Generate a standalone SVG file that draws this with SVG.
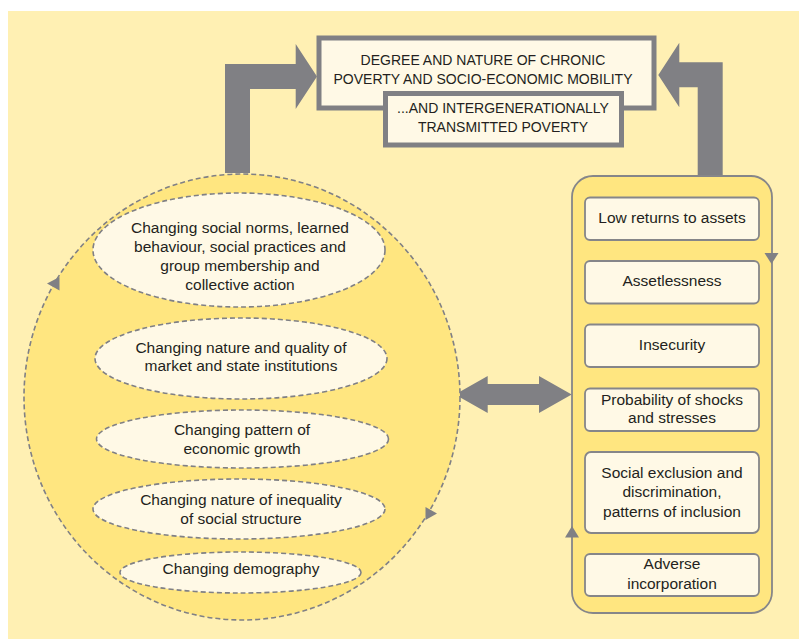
<svg xmlns="http://www.w3.org/2000/svg" width="799" height="639" viewBox="0 0 799 639">
<style>
.t{font-family:"Liberation Sans",Arial,sans-serif;font-size:15.5px;fill:#231f20;text-anchor:middle}
.h{font-family:"Liberation Sans",Arial,sans-serif;font-size:14px;fill:#231f20;text-anchor:middle}
.ell{fill:#FFF9E6;stroke:#808085;stroke-width:1.6;stroke-dasharray:5 3}
.box{fill:#FFF9E6;stroke:#868689;stroke-width:1.8}
.arr{fill:#808084}
.tb{fill:#FFF9E6;stroke:#808084;stroke-width:5}
</style>
<rect x="0" y="0" width="799" height="639" fill="#ffffff"/>
<rect x="8" y="11" width="791" height="628" fill="#FFF0B3"/>
<g id="connectors">
<path class="arr" d="M225,173 L225,64 L295.7,64 L295.7,44 L317,76.5 L295.7,109 L295.7,89 L250,89 L250,173 Z"/>
<path class="arr" d="M722.7,176 L722.7,62.3 L679.3,62.3 L679.3,42.7 L658.3,75 L679.3,107.3 L679.3,87.3 L697.7,87.3 L697.7,176 Z"/>
<path class="arr" d="M455,394.5 L487.7,376 L487.7,384 L539,384 L539,376 L571.7,394.5 L539,413 L539,405 L487.7,405 L487.7,413 Z"/>
</g>
<g id="circle">
<ellipse cx="242" cy="397" rx="218" ry="223" fill="#FFE680" stroke="#808085" stroke-width="1.6" stroke-dasharray="5 3"/>
<polygon class="arr" points="47,283.5 59.5,277 59.5,290.5"/>
<polygon class="arr" points="425.5,507 437,513.5 425.5,520"/>
</g>
<g id="n-norms">
<ellipse class="ell" cx="239" cy="250" rx="146" ry="57"/>
<text class="t" x="240" y="232.5">Changing social norms, learned</text>
<text class="t" x="240" y="251.5">behaviour, social practices and</text>
<text class="t" x="240" y="270.5">group membership and</text>
<text class="t" x="240" y="289.5">collective action</text>
</g>
<g id="n-institutions">
<ellipse class="ell" cx="241" cy="358.5" rx="146" ry="40.5"/>
<text class="t" x="241" y="352.5">Changing nature and quality of</text>
<text class="t" x="241" y="371">market and state institutions</text>
</g>
<g id="n-growth">
<ellipse class="ell" cx="242.5" cy="439" rx="146" ry="29"/>
<text class="t" x="242" y="435">Changing pattern of</text>
<text class="t" x="242" y="453.5">economic growth</text>
</g>
<g id="n-inequality">
<ellipse class="ell" cx="239" cy="509" rx="146" ry="30"/>
<text class="t" x="241" y="505">Changing nature of inequality</text>
<text class="t" x="241" y="524">of social structure</text>
</g>
<g id="n-demography">
<ellipse class="ell" cx="240.5" cy="572.5" rx="120.5" ry="20.5"/>
<text class="t" x="241" y="574">Changing demography</text>
</g>
<g id="panel">
<rect x="572" y="176" width="200" height="437" rx="21" fill="#FFE680" stroke="#868689" stroke-width="1.8"/>
<polygon class="arr" points="764.5,253 778.5,253 771.5,264"/>
<polygon class="arr" points="572,526 565,537.5 579,537.5"/>
</g>
<g id="b-low">
<rect class="box" x="585" y="197.5" width="174" height="42.5" rx="5"/>
<text class="t" x="672" y="223">Low returns to assets</text>
</g>
<g id="b-assetless">
<rect class="box" x="585" y="261" width="174" height="42.5" rx="5"/>
<text class="t" x="672" y="286">Assetlessness</text>
</g>
<g id="b-insecurity">
<rect class="box" x="585" y="324.5" width="174" height="42.5" rx="5"/>
<text class="t" x="672" y="350">Insecurity</text>
</g>
<g id="b-shocks">
<rect class="box" x="585" y="388.5" width="174" height="42.5" rx="5"/>
<text class="t" x="672" y="404.5">Probability of shocks</text>
<text class="t" x="672" y="423">and stresses</text>
</g>
<g id="b-exclusion">
<rect class="box" x="585" y="452" width="174" height="81" rx="6"/>
<text class="t" x="672" y="477.5">Social exclusion and</text>
<text class="t" x="672" y="497">discrimination,</text>
<text class="t" x="672" y="516.5">patterns of inclusion</text>
</g>
<g id="b-adverse">
<rect class="box" x="585" y="554" width="174" height="42" rx="5"/>
<text class="t" x="672" y="568.5">Adverse</text>
<text class="t" x="672" y="588.5">incorporation</text>
</g>
<g id="title1">
<rect class="tb" x="319" y="38" width="335" height="70"/>
<text class="h" x="483" y="65">DEGREE AND NATURE OF CHRONIC</text>
<text class="h" x="483" y="84">POVERTY AND SOCIO-ECONOMIC MOBILITY</text>
</g>
<g id="title2">
<rect class="tb" x="385.5" y="93.5" width="236" height="51.5"/>
<text class="h" x="503" y="113">...AND INTERGENERATIONALLY</text>
<text class="h" x="503" y="132">TRANSMITTED POVERTY</text>
</g>
</svg>
